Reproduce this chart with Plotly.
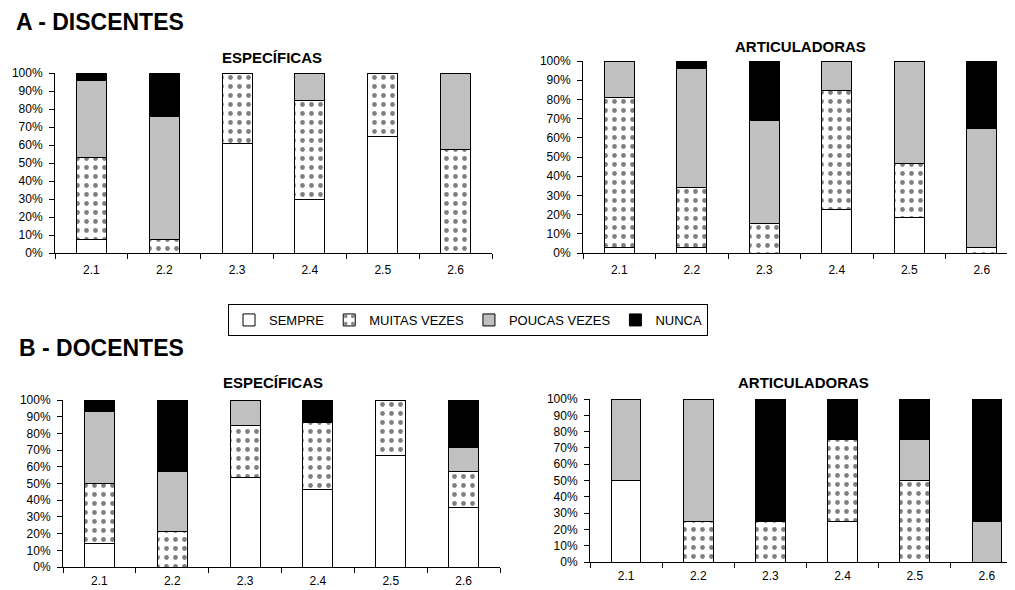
import plotly.graph_objects as go

categories = ["2.1", "2.2", "2.3", "2.4", "2.5", "2.6"]
series_names = ["SEMPRE", "MUITAS VEZES", "POUCAS VEZES", "NUNCA"]

# A - DISCENTES / ESPECÍFICAS
disc_esp_sempre = [7.5, 0, 61, 30, 65, 0]
disc_esp_muitas = [45.5, 7.5, 39, 54.5, 35, 57.5]
disc_esp_poucas = [43, 68.5, 0, 15.5, 0, 42.5]
disc_esp_nunca = [4, 24, 0, 0, 0, 0]

# A - DISCENTES / ARTICULADORAS
disc_art_sempre = [3, 3, 0, 22.5, 18.5, 0]
disc_art_muitas = [78, 31, 15.5, 62, 28, 3]
disc_art_poucas = [19, 62, 53.5, 15.5, 53.5, 62]
disc_art_nunca = [0, 4, 31, 0, 0, 35]

# B - DOCENTES / ESPECÍFICAS
doc_esp_sempre = [14.3, 0, 53.8, 46.7, 66.7, 35.7]
doc_esp_muitas = [35.7, 21.4, 30.8, 40, 33.3, 21.4]
doc_esp_poucas = [42.9, 35.7, 15.4, 0, 0, 14.3]
doc_esp_nunca = [7.1, 42.9, 0, 13.3, 0, 28.6]

# B - DOCENTES / ARTICULADORAS
doc_art_sempre = [50, 0, 0, 25, 0, 0]
doc_art_muitas = [0, 25, 25, 50, 50, 0]
doc_art_poucas = [50, 75, 0, 0, 25, 25]
doc_art_nunca = [0, 0, 75, 25, 25, 75]

panels = [
    ("x", "y", [disc_esp_sempre, disc_esp_muitas, disc_esp_poucas, disc_esp_nunca]),
    ("x2", "y2", [disc_art_sempre, disc_art_muitas, disc_art_poucas, disc_art_nunca]),
    ("x3", "y3", [doc_esp_sempre, doc_esp_muitas, doc_esp_poucas, doc_esp_nunca]),
    ("x4", "y4", [doc_art_sempre, doc_art_muitas, doc_art_poucas, doc_art_nunca]),
]

styles = [
    dict(color="white", pattern=None),
    dict(color="white", pattern=dict(shape=".", fgcolor="black", bgcolor="white", size=9, solidity=0.22)),
    dict(color="#c0c0c0", pattern=None),
    dict(color="black", pattern=None),
]

W, H = 1015, 590
OFF = 8  # page body margin offset
fig = go.Figure()

for pi, (xa, ya, series) in enumerate(panels):
    for si, vals in enumerate(series):
        st = styles[si]
        marker = dict(color=st["color"], line=dict(color="black", width=1))
        if st["pattern"]:
            marker["pattern"] = st["pattern"]
        fig.add_trace(go.Bar(
            x=categories, y=[v if v else None for v in vals],
            name=series_names[si], marker=marker,
            xaxis=xa, yaxis=ya, showlegend=(pi == 0),
            legendgroup=series_names[si],
        ))

def px_x(p):
    return (p - OFF) / W

def px_y(p):
    return 1 - (p - OFF) / H

tick_font = dict(family="Arial", size=12, color="black")

def xaxis(d0, d1, anchor, standoff):
    return dict(domain=[px_x(d0), min(1.0, px_x(d1))], anchor=anchor, type="category",
                range=[-0.5, 5.5], showline=True, linecolor="black", linewidth=1,
                ticks="outside", ticklen=5, tickcolor="black", tickson="boundaries",
                showgrid=False, zeroline=False, tickfont=tick_font,
                ticklabelstandoff=standoff, automargin=False)

def yaxis(b, t, anchor):
    return dict(domain=[px_y(b), px_y(t)], anchor=anchor, range=[0, 100], dtick=10,
                ticksuffix="%", showline=True, linecolor="black", linewidth=1,
                ticks="outside", ticklen=5, tickcolor="black", showgrid=False,
                zeroline=False, tickfont=tick_font, ticklabelstandoff=4, automargin=False)

fig.update_layout(
    width=W, height=H, margin=dict(l=0, r=0, t=0, b=0, pad=0, autoexpand=False),
    paper_bgcolor="white", plot_bgcolor="white",
    barmode="stack", bargap=0.59,
    xaxis=xaxis(55, 492, "y", 6),
    yaxis=yaxis(253, 73, "x"),
    xaxis2=xaxis(583, 1018, "y2", 6),
    yaxis2=yaxis(253, 61, "x2"),
    xaxis3=xaxis(63, 500, "y3", 3),
    yaxis3=yaxis(567, 400, "x3"),
    xaxis4=xaxis(590, 1025, "y4", 3),
    yaxis4=yaxis(562, 399, "x4"),
    legend=dict(orientation="h", x=px_x(228), y=px_y(304), xanchor="left", yanchor="top",
                bordercolor="black", borderwidth=1, bgcolor="white",
                font=dict(family="Arial", size=13, color="black"),
                traceorder="normal", tracegroupgap=0),
    font=dict(family="Arial", color="black"),
)

annots = [
    ("A - DISCENTES", 15, 8, 23, "left", "top"),
    ("B - DOCENTES", 18, 348, 23, "left", "middle"),
    ("ESPECÍFICAS", 272, 57, 15, "center", "middle"),
    ("ARTICULADORAS", 800, 47, 15, "center", "middle"),
    ("ESPECÍFICAS", 273, 382, 15, "center", "middle"),
    ("ARTICULADORAS", 803, 382, 15, "center", "middle"),
]
for text, x, y, size, anchor, yanc in annots:
    fig.add_annotation(text="<b>%s</b>" % text, x=px_x(x), y=px_y(y), xref="paper", yref="paper",
                       xanchor=anchor, yanchor=yanc, showarrow=False, borderpad=0,
                       font=dict(family="Arial", size=size, color="black"))

fig.write_html("out.html")
